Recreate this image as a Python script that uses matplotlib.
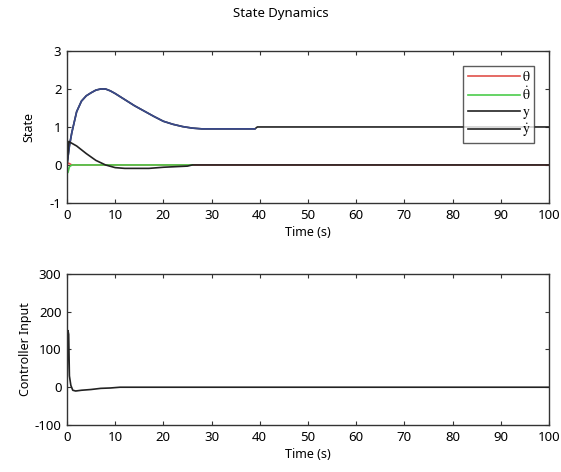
import numpy as np
import matplotlib.pyplot as plt
from matplotlib.lines import Line2D

plt.rcParams['font.family'] = ['Noto Sans', 'DejaVu Sans']
plt.rcParams['mathtext.fontset'] = 'stix'
plt.rcParams['axes.unicode_minus'] = False

# state trajectories
t_y = [0, 0.5, 1, 2, 3, 4, 5, 6, 7, 8, 9, 10, 12, 14, 16, 18, 20, 22, 24, 26, 28, 39, 39.5, 100]
y = [0, 0.5, 0.85, 1.4, 1.68, 1.82, 1.9, 1.97, 2.0, 2.0, 1.95, 1.88, 1.72, 1.56, 1.42, 1.28,
     1.15, 1.07, 1.01, 0.97, 0.95, 0.95, 1.0, 1.0]
y_blue_end = 21   # the trace shows blue up to t = 39, black after

t_yd = [0, 0.4, 0.6, 2, 4, 6, 8, 10, 12, 17, 20, 25, 26, 100]
y_dot = [0, 0.62, 0.6, 0.5, 0.3, 0.12, 0.0, -0.07, -0.09, -0.09, -0.06, -0.03, 0, 0]

t_th = [0, 0.3, 1, 100]
theta = [0, 0.05, 0, 0]

t_thd = [0, 0.2, 0.5, 1, 26]
theta_dot = [0, -0.2, -0.05, 0, 0]

# controller input
t_u = [0, 0.2, 0.35, 0.5, 0.8, 1.2, 1.8, 3, 5, 7, 9, 11, 100]
u = [0, 150, 140, 30, 5, -8, -10, -8, -6, -3, -2, 0, 0]

fig = plt.figure(figsize=(5.61, 4.72), dpi=100)
ax1 = fig.add_axes([0.1194, 0.570, 0.859, 0.322])
ax2 = fig.add_axes([0.1194, 0.0996, 0.859, 0.320])

ax1.plot(t_th, theta, color='#e0504a', lw=1.2)
ax1.plot(t_thd, theta_dot, color='#4ccc4c', lw=1.2)
ax1.plot(t_y, y, color='#222222', lw=1.2)
ax1.plot(t_y[:y_blue_end + 1], y[:y_blue_end + 1], color='#3a4a8c', lw=1.2)
ax1.plot(t_yd, y_dot, color='#222222', lw=1.2)
ax1.set_ylim(-1, 3)
ax1.set_yticks([-1, 0, 1, 2, 3])

handles = [Line2D([], [], color='#e0504a', lw=1.2),
           Line2D([], [], color='#4ccc4c', lw=1.2),
           Line2D([], [], color='#222222', lw=1.2),
           Line2D([], [], color='#222222', lw=1.2)]
labels = [r'$\mathrm{\theta}$', r'$\dot{\mathrm{\theta}}$', r'$\mathrm{y}$', r'$\dot{\mathrm{y}}$']
leg = ax1.legend(handles, labels, loc='upper right', bbox_to_anchor=(0.97, 0.90),
                 fontsize=10, frameon=True, fancybox=False, edgecolor='#333333',
                 handlelength=3.8, handletextpad=0.1, labelspacing=0.08,
                 borderpad=0.3, borderaxespad=0)
leg.get_frame().set_linewidth(1.0)

ax2.plot(t_u, u, color='#222222', lw=1.2)
ax2.set_ylim(-100, 300)
ax2.set_yticks([-100, 0, 100, 200, 300])

for ax in (ax1, ax2):
    ax.set_xlim(0, 100)
    ax.set_xticks(range(0, 101, 10))
    ax.tick_params(direction='in', top=True, right=True, labelsize=9.5, length=3,
                   colors='#333333', labelcolor='black', pad=4)
    for s in ax.spines.values():
        s.set_color('#333333')
        s.set_linewidth(1.0)
    ax.set_xlabel('Time (s)', fontsize=9, labelpad=3)

ax1.set_ylabel('State', fontsize=9, labelpad=10)
ax2.set_ylabel('Controller Input', fontsize=9, labelpad=2)

fig.text(0.5, 0.972, 'State Dynamics', ha='center', va='center', fontsize=9.5)

fig.savefig('out.png', dpi=100)
